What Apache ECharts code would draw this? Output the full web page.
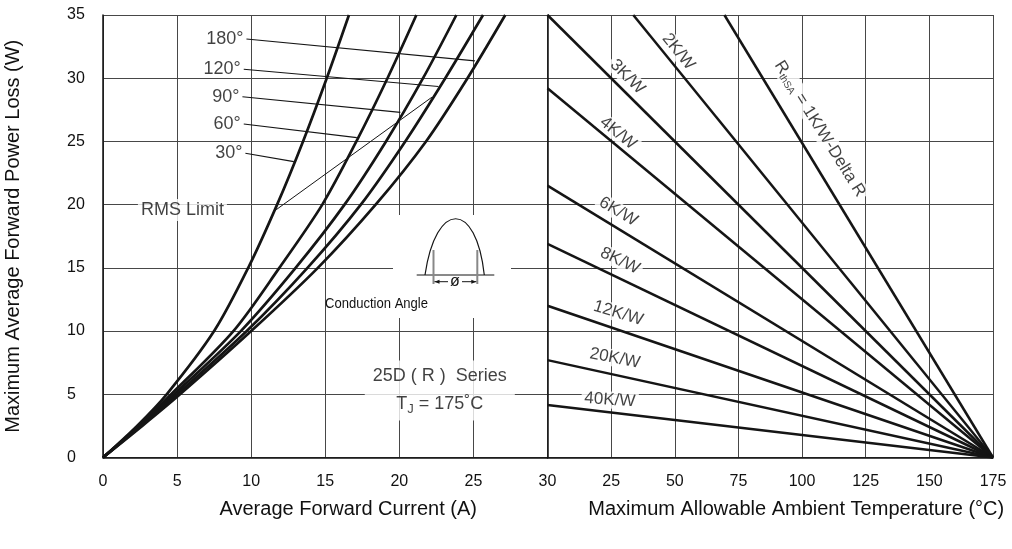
<!DOCTYPE html>
<html><head><meta charset="utf-8">
<script src="https://cdn.jsdelivr.net/npm/echarts@6/dist/echarts.min.js"></script>
<style>html,body{margin:0;padding:0;background:#fff}#c{width:1012px;height:549px}</style>
</head><body><div id="c"></div>
<script>
// ---------- data ----------
const powerLevels = [0, 2.5, 5, 10, 15, 20, 25, 30, 35];          // W
const current30  = [0, 2.3, 4.3, 7.5, 9.8, 11.75, 13.5, 15.1, 16.6];   // A
const current60  = [0, 2.4, 4.6, 8.8, 11.9, 14.8, 17.1, 19.2, 21.15];
const current90  = [0, 2.5, 4.8, 9.3, 13.0, 16.3, 19.1, 21.6, 23.85];
const current120 = [0, 2.55, 5.0, 9.7, 13.8, 17.4, 20.4, 23.1, 25.65];
const current180 = [0, 2.65, 5.2, 10.0, 14.5, 18.4, 21.8, 24.6, 27.15];
const angleNames = ['30°', '60°', '90°', '120°', '180°'];

const rmsCurrent = [11.69, 22.2];
const rmsPower   = [19.6, 28.5];

const thermalNames    = ['1K/W', '2K/W', '3K/W', '4K/W', '6K/W', '8K/W', '12K/W', '20K/W', '40K/W'];
const lineStartTemp   = [69.5, 33.7, 0, 0, 0, 0, 0, 0, 0];          // °C
const lineStartPower  = [35, 35, 35, 29.2, 21.5, 16.9, 12.0, 7.7, 4.15]; // W
const lineEndTemp = 175, lineEndPower = 0;

const leftTicks  = [0, 5, 10, 15, 20, 25, 30];
const rightTicks = [0, 25, 50, 75, 100, 125, 150, 175];
const powerTicks = [0, 5, 10, 15, 20, 25, 30, 35];

// ---------- annotation layout ----------
const pointerStart = [[9.61, 24.07], [9.5, 26.38], [9.41, 28.54], [9.5, 30.71], [9.68, 33.1]];
const pointerEnd   = [[12.88, 23.4], [17.13, 25.3], [20.07, 27.3], [22.64, 29.35], [25.1, 31.37]];
const thermalLabelAt = [[107.0, 26.0], [51.4, 32.1], [31.4, 30.1], [27.7, 25.65], [27.8, 19.45],
                        [28.5, 15.56], [27.8, 11.41], [26.5, 7.85], [24.5, 4.55]];
const thermalLabelRot = [-58, -51, -45, -39, -31, -26, -17, -11, -4];

const FONT = '"Liberation Sans", Arial, Helvetica, sans-serif';
const INK = '#151515', TXT = '#111', GRID = '#474747';

const chart = echarts.init(document.getElementById('c'));
const series = [];

[current30, current60, current90, current120, current180].forEach((cs, i) => {
  series.push({
    type: 'line', name: angleNames[i], xAxisIndex: 0, yAxisIndex: 0,
    data: cs.map((c, j) => [c, powerLevels[j]]),
    smooth: 0.3, showSymbol: false, lineStyle: { color: INK, width: 2.7 }, z: 2
  });
});
series.push({
  type: 'line', name: 'RMS Limit', xAxisIndex: 0, yAxisIndex: 0,
  data: rmsCurrent.map((c, j) => [c, rmsPower[j]]),
  showSymbol: false, lineStyle: { color: INK, width: 1 }, z: 2
});
pointerStart.forEach((p, i) => {
  series.push({
    type: 'line', xAxisIndex: 0, yAxisIndex: 0, data: [p, pointerEnd[i]],
    showSymbol: false, lineStyle: { color: INK, width: 1.1 }, z: 2
  });
});
// left text labels
const leftLabels = pointerStart.map((p, i) => ({
  value: p, label: { formatter: angleNames[i], position: 'left', distance: 3 }
}));
leftLabels.push({ value: [5.36, 19.58], label: { formatter: 'RMS Limit', position: 'inside', backgroundColor: '#fff', padding: [2, 3] } });
leftLabels.push({
  value: [22.73, 5.3],
  label: {
    position: 'inside', backgroundColor: '#fff', padding: [2, 8],
    formatter: '{a|25D ( R )  Series}\n{a|T}{s|J}{a| = 175˚C}',
    rich: {
      a: { fontSize: 18, color: TXT, fontFamily: FONT, lineHeight: 28 },
      s: { fontSize: 13, color: TXT, fontFamily: FONT, lineHeight: 28, padding: [10, 0, 0, 0] }
    }
  }
});
series.push({
  type: 'scatter', xAxisIndex: 0, yAxisIndex: 0, symbolSize: 0, z: 4, silent: true,
  label: { show: true, fontSize: 18, color: TXT, fontFamily: FONT },
  data: leftLabels
});

// right panel lines
thermalNames.forEach((n, i) => {
  series.push({
    type: 'line', name: n, xAxisIndex: 1, yAxisIndex: 1,
    data: [[lineStartTemp[i], lineStartPower[i]], [lineEndTemp, lineEndPower]],
    showSymbol: false, lineStyle: { color: INK, width: 2.5 }, z: 2
  });
});
series.push({
  type: 'scatter', xAxisIndex: 1, yAxisIndex: 1, symbolSize: 0, z: 4, silent: true,
  label: { show: true, position: 'inside', fontSize: 17, color: TXT, fontFamily: FONT, backgroundColor: '#fff', padding: [0, 3] },
  data: thermalNames.map((n, i) => ({
    value: thermalLabelAt[i],
    label: i === 0 ? {
      rotate: thermalLabelRot[i],
      formatter: '{r|R}{s|thSA}{r| = 1K/W-Delta R}',
      rich: {
        r: { fontSize: 17, color: TXT, fontFamily: FONT },
        s: { fontSize: 10, color: TXT, fontFamily: FONT, padding: [9, 0, 0, 0] }
      }
    } : { rotate: thermalLabelRot[i], formatter: n }
  }))
});

const axisCommon = {
  type: 'value', axisTick: { show: false },
  splitLine: { show: true, lineStyle: { color: GRID, width: 1 } }
};

chart.setOption({
  animation: false,
  backgroundColor: '#fff',
  textStyle: { fontFamily: FONT },
  grid: [
    { left: 103, top: 15, width: 444.5, height: 442.5 },
    { left: 547.5, top: 15, width: 445.5, height: 442.5 }
  ],
  xAxis: [
    Object.assign({}, axisCommon, {
      gridIndex: 0, min: leftTicks[0], max: leftTicks[leftTicks.length - 1], interval: 5,
      axisLine: { show: true, onZero: false, lineStyle: { color: '#111', width: 1.5 } },
      axisLabel: { fontSize: 16, color: TXT, margin: 16 },
      name: 'Average Forward Current (A)', nameLocation: 'middle', nameGap: 42,
      nameTextStyle: { fontSize: 20, color: TXT, padding: [0, 0, 0, 46] }
    }),
    Object.assign({}, axisCommon, {
      gridIndex: 1, min: rightTicks[0], max: rightTicks[rightTicks.length - 1], interval: 25,
      axisLine: { show: true, onZero: false, lineStyle: { color: '#111', width: 1.5 } },
      axisLabel: { fontSize: 16, color: TXT, margin: 16, formatter: v => (v === 0 ? '' : String(v)) },
      name: 'Maximum Allowable Ambient Temperature (°C)', nameLocation: 'middle', nameGap: 42,
      nameTextStyle: { fontSize: 20, color: TXT, padding: [0, 0, 0, 52] }
    })
  ],
  yAxis: [
    Object.assign({}, axisCommon, {
      gridIndex: 0, min: powerTicks[0], max: powerTicks[powerTicks.length - 1], interval: 5,
      axisLine: { show: true, onZero: false, lineStyle: { color: '#111', width: 1.5 } },
      axisLabel: { fontSize: 16, color: TXT, align: 'left', margin: 36 },
      name: 'Maximum Average Forward Power Loss (W)', nameLocation: 'middle', nameGap: 80,
      nameTextStyle: { fontSize: 20, color: TXT }
    }),
    Object.assign({}, axisCommon, {
      gridIndex: 1, min: powerTicks[0], max: powerTicks[powerTicks.length - 1], interval: 5,
      axisLine: { show: true, onZero: false, lineStyle: { color: '#111', width: 1.5 } },
      axisLabel: { show: false }
    })
  ],
  series: series,
  graphic: [
    { type: 'rect', z: 1, shape: { x: 393, y: 215, width: 118, height: 103 }, style: { fill: '#fff' } },
    { type: 'bezierCurve', z: 5, shape: { x1: 425, y1: 275, cpx1: 436, cpy1: 200, cpx2: 476, cpy2: 200, x2: 484.3, y2: 275 }, style: { stroke: INK, lineWidth: 1.2, fill: null } },
    { type: 'line', z: 5, shape: { x1: 416.7, y1: 275, x2: 494.3, y2: 275 }, style: { stroke: INK, lineWidth: 1 } },
    { type: 'line', z: 5, shape: { x1: 433.5, y1: 250, x2: 433.5, y2: 284 }, style: { stroke: '#888', lineWidth: 2 } },
    { type: 'line', z: 5, shape: { x1: 477.3, y1: 250, x2: 477.3, y2: 284 }, style: { stroke: '#888', lineWidth: 2 } },
    { type: 'line', z: 5, shape: { x1: 434.5, y1: 281.7, x2: 448, y2: 281.7 }, style: { stroke: INK, lineWidth: 1 } },
    { type: 'line', z: 5, shape: { x1: 462, y1: 281.7, x2: 476.3, y2: 281.7 }, style: { stroke: INK, lineWidth: 1 } },
    { type: 'polygon', z: 5, shape: { points: [[434.5, 281.7], [439.5, 279.7], [439.5, 283.7]] }, style: { fill: INK } },
    { type: 'polygon', z: 5, shape: { points: [[476.3, 281.7], [471.3, 279.7], [471.3, 283.7]] }, style: { fill: INK } },
    { type: 'text', z: 5, x: 455, y: 282, style: { text: 'ø', fontSize: 16, fill: TXT, fontFamily: FONT, align: 'center', verticalAlign: 'middle' } },
    { type: 'text', z: 5, x: 325, y: 303.5, scaleX: 0.87, style: { text: 'Conduction Angle', fontSize: 15, fill: TXT, fontFamily: FONT, align: 'left', verticalAlign: 'middle' } }
  ]
});
</script>
</body></html>
